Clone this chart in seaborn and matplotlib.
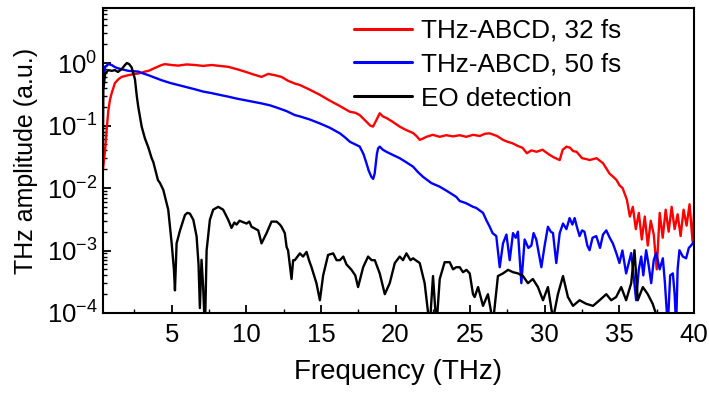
import numpy as np
import pandas as pd
import matplotlib
matplotlib.use("Agg")
import matplotlib.pyplot as plt
import seaborn as sns
from matplotlib.ticker import LogLocator, MultipleLocator, NullFormatter

# ---------------- data ----------------
red_f = [0.31, 0.42, 0.54, 0.65, 0.76, 0.87, 0.98, 1.2, 1.43, 1.65, 2.1, 2.4, 2.76, 3.0, 3.21,
         3.45, 3.66, 4.0, 4.33, 4.55, 5.0, 5.44, 6.0, 6.56, 7.1, 7.68, 8.2, 8.79, 9.35, 9.9,
         10.45, 11.02, 11.47, 11.9, 12.36, 12.8, 13.25, 13.59, 14.2, 14.93, 15.6, 16.27, 16.94,
         17.3, 17.6, 18.05, 18.3, 18.49, 18.7, 18.94, 19.15, 19.39, 19.8, 20.28, 20.7, 21.17,
         21.4, 21.62, 21.85, 22.07, 22.5, 22.96, 23.4, 23.85, 24.3, 24.74, 25.2, 25.64, 26.0,
         26.31, 26.8, 27.2, 27.5, 27.84, 28.2, 28.51, 28.8, 29.1, 29.45, 29.85, 30.1, 30.32,
         30.6, 31.0, 31.2, 31.46, 31.7, 31.9, 32.13, 32.5, 32.8, 33.0, 33.47, 33.9, 34.1, 34.34,
         34.6, 34.81, 35.01, 35.21, 35.5, 35.7, 35.9, 36.1, 36.3, 36.5, 36.7, 36.9, 37.1, 37.3,
         37.5, 37.7, 37.9, 38.1, 38.3, 38.5, 38.7, 38.9, 39.1, 39.3, 39.5, 39.7, 39.9, 40.0]
red_a = [0.0134, 0.022, 0.041, 0.09, 0.177, 0.26, 0.33, 0.48, 0.55, 0.60, 0.64, 0.66, 0.68, 0.70,
         0.73, 0.75, 0.79, 0.86, 0.93, 0.96, 0.93, 0.91, 0.95, 0.93, 0.90, 0.93, 0.90, 0.87, 0.80,
         0.73, 0.66, 0.60, 0.67, 0.64, 0.60, 0.52, 0.47, 0.445, 0.38, 0.31, 0.25, 0.205, 0.166,
         0.16, 0.147, 0.115, 0.10, 0.096, 0.12, 0.157, 0.14, 0.132, 0.115, 0.096, 0.085, 0.076,
         0.068, 0.059, 0.062, 0.066, 0.071, 0.066, 0.070, 0.067, 0.070, 0.066, 0.071, 0.068, 0.074,
         0.075, 0.068, 0.059, 0.055, 0.052, 0.047, 0.044, 0.036, 0.040, 0.038, 0.041, 0.037, 0.034,
         0.031, 0.028, 0.041, 0.046, 0.044, 0.039, 0.038, 0.030, 0.029, 0.028, 0.030, 0.025, 0.021,
         0.017, 0.015, 0.0134, 0.011, 0.010, 0.0065, 0.0035, 0.005, 0.0022, 0.004, 0.0015, 0.0035,
         0.0012, 0.003, 0.0018, 0.0005, 0.004, 0.0016, 0.0045, 0.002, 0.005, 0.0022, 0.0038,
         0.0017, 0.0045, 0.0025, 0.0055, 0.0014, 0.004]

blue_f = [0.31, 0.42, 0.54, 0.76, 0.98, 1.2, 1.43, 1.8, 2.1, 2.76, 3.1, 3.43, 3.9, 4.33, 4.9,
          5.44, 6.0, 6.56, 7.1, 7.68, 8.2, 8.79, 9.35, 9.9, 10.45, 11.02, 11.6, 12.14, 12.7,
          13.25, 13.59, 14.25, 14.93, 15.6, 16.27, 16.6, 16.94, 17.3, 17.6, 17.85, 18.05, 18.2,
          18.38, 18.5, 18.6, 18.75, 18.83, 18.94, 19.15, 19.39, 19.8, 20.28, 20.7, 21.17, 21.5,
          21.84, 22.4, 22.96, 23.5, 24.07, 24.3, 24.74, 25.19, 25.41, 25.86, 26.1, 26.31, 26.5,
          26.75, 26.98, 27.2, 27.43, 27.65, 27.87, 28.05, 28.2, 28.43, 28.65, 28.9, 29.1, 29.25,
          29.43, 29.6, 29.77, 29.99, 30.21, 30.4, 30.55, 30.77, 31.0, 31.22, 31.45, 31.66, 31.85,
          32.0, 32.15, 32.33, 32.5, 32.66, 32.85, 33.0, 33.2, 33.45, 33.7, 33.9, 34.12, 34.35,
          34.56, 34.8, 35.0, 35.2, 35.45, 35.6, 35.79, 35.95, 36.12, 36.3, 36.46, 36.6, 36.79,
          36.95, 37.13, 37.3, 37.46, 37.7, 37.91, 38.05, 38.24, 38.4, 38.58, 38.7, 38.8, 38.9,
          39.02, 39.25, 39.47, 39.65, 39.8, 40.0]
blue_a = [0.166, 0.53, 0.87, 0.96, 0.93, 0.86, 0.82, 0.78, 0.75, 0.73, 0.68, 0.64, 0.58, 0.53,
          0.48, 0.445, 0.41, 0.38, 0.35, 0.33, 0.31, 0.29, 0.27, 0.255, 0.24, 0.226, 0.21, 0.19,
          0.17, 0.147, 0.14, 0.125, 0.108, 0.092, 0.075, 0.065, 0.055, 0.05, 0.046, 0.035, 0.025,
          0.019, 0.0151, 0.014, 0.017, 0.035, 0.043, 0.046, 0.041, 0.038, 0.034, 0.030, 0.026,
          0.022, 0.018, 0.0151, 0.012, 0.0105, 0.0088, 0.0072, 0.0062, 0.0057, 0.0050, 0.0048,
          0.0040, 0.0030, 0.0024, 0.0019, 0.0017, 0.00054, 0.0013, 0.0018, 0.00070, 0.0019,
          0.0016, 0.0020, 0.00030, 0.0015, 0.0011, 0.0012, 0.0019, 0.0015, 0.0009, 0.00054,
          0.0012, 0.0024, 0.0020, 0.0019, 0.00063, 0.0019, 0.0027, 0.0022, 0.0033, 0.0026, 0.0033,
          0.0024, 0.0017, 0.0021, 0.0020, 0.0012, 0.00101, 0.0016, 0.0017, 0.0011, 0.0018, 0.0021,
          0.0016, 0.0013, 0.0009, 0.00063, 0.0010, 0.00043, 0.0006, 0.00091, 0.0004, 0.00016,
          0.0005, 0.00080, 0.0004, 0.00101, 0.0006, 0.00030, 0.0007, 0.00091, 0.0005, 0.00075,
          0.0003, 0.00006, 0.0004, 0.00043, 0.0002, 0.00006, 0.0005, 0.00101, 0.0008, 0.00075,
          0.0011, 0.0012, 0.0014]

black_f = [0.31, 0.42, 0.54, 0.76, 0.98, 1.2, 1.4, 1.65, 1.87, 2.0, 2.15, 2.32, 2.54, 2.66, 2.76,
           2.99, 3.21, 3.43, 3.66, 3.77, 4.08, 4.22, 4.44, 4.77, 5.0, 5.15, 5.22, 5.33, 5.56,
           5.89, 6.05, 6.22, 6.45, 6.67, 6.8, 6.89, 7.0, 7.11, 7.23, 7.34, 7.56, 7.78, 8.12, 8.45,
           8.79, 9.01, 9.2, 9.35, 9.55, 9.69, 10.02, 10.2, 10.35, 10.8, 11.02, 11.36, 11.69,
           12.03, 12.25, 12.36, 12.58, 12.7, 12.8, 13.03, 13.14, 13.25, 13.59, 13.8, 14.04, 14.2,
           14.37, 14.7, 14.93, 15.15, 15.48, 15.82, 16.05, 16.27, 16.5, 16.71, 17.05, 17.3, 17.49,
           17.83, 18.16, 18.4, 18.61, 18.94, 19.28, 19.61, 19.95, 20.28, 20.5, 20.73, 21.0, 21.17,
           21.62, 21.95, 22.29, 22.51, 22.74, 22.96, 23.29, 23.63, 23.85, 24.07, 24.3, 24.52,
           24.75, 24.97, 25.19, 25.3, 25.53, 25.86, 26.19, 26.53, 26.86, 27.2, 27.54, 27.87, 28.2,
           28.54, 28.87, 29.2, 29.54, 29.88, 30.21, 30.55, 30.88, 31.22, 31.55, 31.89, 32.33,
           32.78, 33.23, 33.67, 34.12, 34.45, 34.78, 35.12, 35.45, 35.79, 36.01, 36.23, 36.57,
           36.9, 37.23, 37.57, 37.8]
black_a = [0.00005, 0.37, 0.68, 0.77, 0.75, 0.77, 0.72, 0.80, 0.93, 1.0, 0.96, 0.85, 0.55, 0.30,
           0.20, 0.096, 0.062, 0.045, 0.030, 0.026, 0.0134, 0.012, 0.0093, 0.0045, 0.0013, 0.0005,
           0.00023, 0.0013, 0.0021, 0.0037, 0.0040, 0.0039, 0.0031, 0.00168, 0.0006, 0.00012,
           0.00071, 0.00026, 0.00005, 0.0010, 0.0031, 0.0045, 0.0050, 0.0045, 0.0031, 0.0023,
           0.0028, 0.0026, 0.0030, 0.0029, 0.0027, 0.0029, 0.0024, 0.0021, 0.0013, 0.0019, 0.0029,
           0.0029, 0.0026, 0.0024, 0.0019, 0.00114, 0.001, 0.00035, 0.0007, 0.0007, 0.0009, 0.0008,
           0.00095, 0.0007, 0.00054, 0.0003, 0.00016, 0.0004, 0.00085, 0.0009, 0.0007, 0.0007,
           0.0008, 0.0006, 0.00049, 0.0004, 0.00026, 0.00054, 0.0008, 0.0007, 0.0007, 0.00043,
           0.0002, 0.0003, 0.00063, 0.0008, 0.0007, 0.0009, 0.0007, 0.00075, 0.00063, 0.0003,
           0.00006, 0.00039, 0.00006, 0.00035, 0.00065, 0.00065, 0.0005, 0.00054, 0.00054, 0.00045,
           0.00049, 0.00043, 0.0002, 0.00018, 0.00026, 0.00013, 0.0002, 0.00007, 0.00039, 0.00043,
           0.00049, 0.00045, 0.00043, 0.00039, 0.0003, 0.00035, 0.00026, 0.00016, 0.00026, 0.00008,
           0.0002, 0.00039, 0.00018, 0.00013, 0.00016, 0.00014, 0.00013, 0.00016, 0.0002, 0.00016,
           0.00018, 0.00026, 0.00016, 0.0003, 0.00101, 0.00016, 0.00026, 0.0002, 0.00014, 0.00008,
           0.00004]

labels = ["THz-ABCD, 32 fs", "THz-ABCD, 50 fs", "EO detection"]
colors = ["#ff0000", "#0000ff", "#000000"]
x_ticks = [5, 10, 15, 20, 25, 30, 35, 40]

df = pd.concat([
    pd.DataFrame({"Frequency": red_f, "Amplitude": red_a, "series": labels[0]}),
    pd.DataFrame({"Frequency": blue_f, "Amplitude": blue_a, "series": labels[1]}),
    pd.DataFrame({"Frequency": black_f, "Amplitude": black_a, "series": labels[2]}),
], ignore_index=True)

# ---------------- style ----------------
sns.set_style("ticks")
plt.rcParams["font.family"] = ["Liberation Sans", "DejaVu Sans"]
plt.rcParams["mathtext.fontset"] = "custom"
plt.rcParams["mathtext.rm"] = "Liberation Sans"
plt.rcParams["mathtext.it"] = "Liberation Sans:italic"
plt.rcParams["mathtext.bf"] = "Liberation Sans:bold"
for key in ["text.color", "axes.labelcolor", "xtick.color", "ytick.color", "axes.edgecolor"]:
    plt.rcParams[key] = "black"

fig = plt.figure(figsize=(7.09, 3.94), dpi=100)
ax = fig.add_axes([0.1453, 0.2056, 0.8336, 0.7741])

sns.lineplot(data=df, x="Frequency", y="Amplitude", hue="series", hue_order=labels,
             palette=dict(zip(labels, colors)), estimator=None, sort=False,
             linewidth=1.7, ax=ax)

ax.set_yscale("log")
ax.set_xlim(0.4, 40)
ax.set_ylim(1e-4, 7.6)
ax.set_xticks(x_ticks)
ax.xaxis.set_minor_locator(MultipleLocator(2.5))
ax.yaxis.set_major_locator(LogLocator(base=10, numticks=10))
ax.yaxis.set_minor_locator(LogLocator(base=10, subs=np.arange(2, 10), numticks=20))
ax.yaxis.set_minor_formatter(NullFormatter())

for s in ax.spines.values():
    s.set_linewidth(1.5)
    s.set_color("black")
ax.tick_params(which="both", direction="in", top=False, right=False, color="black")
ax.tick_params(which="major", length=6, width=1.3, labelsize=18.5, pad=7)
ax.tick_params(which="minor", length=3, width=1.0)
ax.tick_params(axis="y", which="major", pad=4)

ax.set_xlabel("Frequency (THz)", fontsize=20, labelpad=9)
ax.set_ylabel("THz amplitude (a.u.)", fontsize=18, labelpad=6)

leg = ax.legend(loc="upper left", bbox_to_anchor=(0.425, 0.965), frameon=False,
                fontsize=18.8, handlelength=2.2, handletextpad=0.35, labelspacing=0.38,
                borderaxespad=0, borderpad=0)
for line in leg.get_lines():
    line.set_linewidth(2.2)

fig.savefig("out.png", dpi=100)
